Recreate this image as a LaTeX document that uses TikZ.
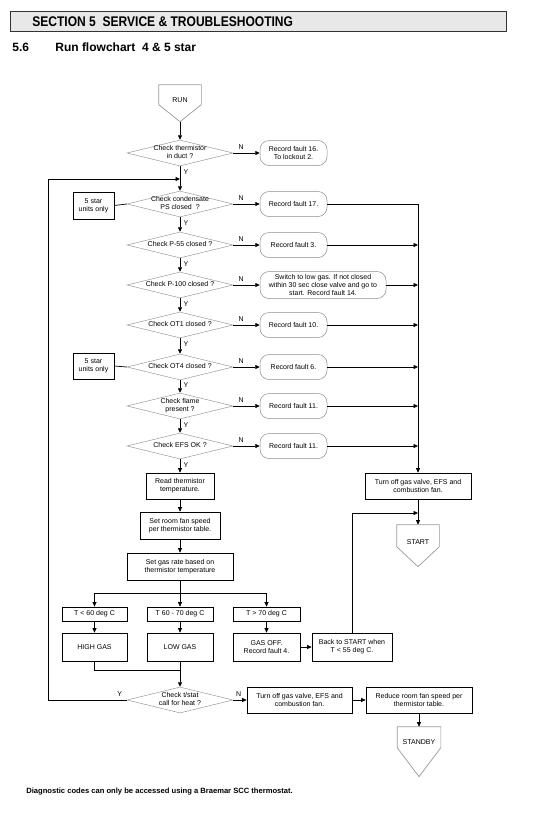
\documentclass[tikz,border=0pt]{standalone}
\usepackage{fontspec}
\setmainfont{Liberation Sans}
\usetikzlibrary{arrows, arrows.meta, shapes.geometric, calc}
\newcommand{\dtxt}[1]{\makebox[0pt]{\begin{tabular}{@{}c@{}}#1\end{tabular}}}
\newcommand{\pent}[3]{\draw[draw=gray!80] (#1.north west) -- (#1.north east) -- ($(#1.north east)+(0,#2)$) -- ($(#1.north)+(0,#3)$) coordinate (#1tip) -- ($(#1.north west)+(0,#2)$) -- cycle;}

\begin{document}
\begin{tikzpicture}[x=1pt, y=-1pt, line width=0.7pt, >={Triangle[length=4.5pt, width=4pt]},
		font=\fontsize{7}{8}\selectfont,
		dec/.style={diamond, draw=gray!80, line width=0.5pt, aspect=4, inner sep=0pt, minimum width=106, minimum height=26},
		rec/.style={rectangle, rounded corners=9pt, draw=gray!90, line width=0.5pt, align=center, inner sep=1pt, minimum width=67, minimum height=25},
		box/.style={rectangle, draw, align=center, inner sep=1pt},
		term/.style={rectangle, inner sep=0pt, minimum width=42}]
			
			\useasboundingbox (0,0) rectangle (543,814);
			
			\node[draw=black!80, fill=gray!18, anchor=north west, minimum width=496, minimum height=20, inner sep=0pt] (hdr) at (10,11) {};
			\node[anchor=west, inner sep=0pt, font=\fontsize{14}{16}\selectfont\bfseries] (hdrtxt) at (32,21.5) {\scalebox{0.86}[1]{SECTION 5\ \ SERVICE \& TROUBLESHOOTING}};
			\node[anchor=west, inner sep=0pt, font=\fontsize{12}{14}\selectfont\bfseries] (secnum) at (12,47) {5.6};
			\node[anchor=west, inner sep=0pt, font=\fontsize{12}{14}\selectfont\bfseries] (sectitle) at (55,47) {Run flowchart\ \ 4 \& 5 star};
			
			\node[term, minimum height=30] (run) at (180,100) {RUN};
			\pent{run}{20}{37}
			
			\node[dec] (d1) at (180,153) {\dtxt{Check thermistor\\in duct ?}};
			\node[dec] (d2) at (180,204) {\dtxt{Check condensate\\PS closed\ \ ?}};
			\node[dec] (d3) at (180,245) {\dtxt{Check P-55 closed ?}};
			\node[dec] (d4) at (180,285) {\dtxt{Check P-100 closed ?}};
			\node[dec] (d5) at (180,325) {\dtxt{Check OT1 closed ?}};
			\node[dec] (d6) at (180,367) {\dtxt{Check OT4 closed ?}};
			\node[dec] (d7) at (180,406) {\dtxt{Check flame\\present ?}};
			\node[dec] (d8) at (180,446) {\dtxt{Check EFS OK ?}};
			
			\node[rec] (r1) at (293.5,153) {Record fault 16.\\To lockout 2.};
			\node[rec] (r2) at (293.5,204) {Record fault 17.};
			\node[rec] (r3) at (293.5,245) {Record fault 3.};
			\node[rec, minimum width=126, minimum height=27] (r4) at (323,285) {Switch to low gas. If not closed\\within 30 sec close valve and go to\\start. Record fault 14.};
			\node[rec] (r5) at (293.5,325) {Record fault 10.};
			\node[rec] (r6) at (293.5,367) {Record fault 6.};
			\node[rec] (r7) at (293.5,406) {Record fault 11.};
			\node[rec] (r8) at (293.5,446) {Record fault 11.};
			
			\node[box, minimum width=41, minimum height=27] (s1) at (93.5,205.5) {5 star\\units only};
			\node[box, minimum width=41, minimum height=26] (s2) at (93.5,366) {5 star\\units only};
			
			\node[box, minimum width=106, minimum height=26] (tb1) at (418,486) {Turn off gas valve, EFS and\\combustion fan.};
			\node[term, minimum height=34] (start) at (418,542) {START};
			\pent{start}{22}{42}
			
			\node[box, minimum width=68, minimum height=26] (b1) at (180,486) {Read thermistor\\temperature.};
			\node[box, minimum width=80, minimum height=27] (b2) at (180,525.5) {Set room fan speed\\per thermistor table.};
			\node[box, minimum width=106, minimum height=27] (b3) at (180,566.5) {Set gas rate based on\\thermistor temperature};
			
			\node[box, minimum width=65, minimum height=14] (t1) at (94.5,614) {T < 60 deg C};
			\node[box, minimum width=66, minimum height=14] (t2) at (180,614) {T 60 - 70 deg C};
			\node[box, minimum width=67, minimum height=14] (t3) at (266.5,614) {T > 70 deg C};
			
			\node[box, minimum width=65, minimum height=28] (g1) at (94.5,647) {HIGH GAS};
			\node[box, minimum width=66, minimum height=28] (g2) at (180,647) {LOW GAS};
			\node[box, minimum width=67, minimum height=28] (g3) at (266.5,647) {GAS OFF.\\Record fault 4.};
			\node[box, minimum width=80, minimum height=28] (back) at (352,647) {Back to START when\\T < 55 deg C.};
			
			\node[dec] (d9) at (180,700) {\dtxt{Check t/stat\\call for heat ?}};
			\node[box, minimum width=105, minimum height=26] (tb2) at (299.5,700) {Turn off gas valve, EFS and\\combustion fan.};
			\node[box, minimum width=106, minimum height=26] (tb3) at (419,700) {Reduce room fan speed per\\thermistor table.};
			\node[term, minimum width=43, minimum height=30] (standby) at (419,742) {STANDBY};
			\pent{standby}{21}{50}
			
			\node[anchor=west, inner sep=0pt, font=\fontsize{7.6}{9}\selectfont\bfseries] (note) at (26,792) {Diagnostic codes can only be accessed using a Braemar SCC thermostat.};
			
			\coordinate (join1) at (180,179);
			\coordinate (lp) at (48,700);
			\coordinate (join2) at (418,513);
			\coordinate (br) at (180,593);
			\coordinate (mg) at (180,670);
			
			\draw[->] (runtip) -- (d1.north);
			\draw[->] (d1.south) -- node[right, pos=0.25] {Y} (d2.north);
			\draw[->] (d2.south) -- node[right, pos=0.4] {Y} (d3.north);
			\draw[->] (d3.south) -- node[right, pos=0.4] {Y} (d4.north);
			\draw[->] (d4.south) -- node[right, pos=0.4] {Y} (d5.north);
			\draw[->] (d5.south) -- node[right, pos=0.4] {Y} (d6.north);
			\draw[->] (d6.south) -- node[right, pos=0.4] {Y} (d7.north);
			\draw[->] (d7.south) -- node[right, pos=0.4] {Y} (d8.north);
			\draw[->] (d8.south) -- node[right, pos=0.4] {Y} (b1.north);
			\draw[->] (b1.south) -- (b2.north);
			\draw[->] (b2.south) -- (b3.north);
			
			\draw[->] (d1.east) -- node[above, pos=0.3] {N} (r1.west);
			\draw[->] (d2.east) -- node[above, pos=0.3] {N} (r2.west);
			\draw[->] (d3.east) -- node[above, pos=0.3] {N} (r3.west);
			\draw[->] (d4.east) -- node[above, pos=0.3] {N} (r4.west);
			\draw[->] (d5.east) -- node[above, pos=0.3] {N} (r5.west);
			\draw[->] (d6.east) -- node[above, pos=0.3] {N} (r6.west);
			\draw[->] (d7.east) -- node[above, pos=0.3] {N} (r7.west);
			\draw[->] (d8.east) -- node[above, pos=0.3] {N} (r8.west);
			
			\draw (s1.east) -- (d2.west);
			\draw (s2.east) -- (d6.west);
			
			\draw[->] (r2.east) -| (tb1.north);
			\draw[->] (r3.east) -- (r3.east -| tb1.north);
			\draw[->] (r4.east) -- (r4.east -| tb1.north);
			\draw[->] (r5.east) -- (r5.east -| tb1.north);
			\draw[->] (r6.east) -- (r6.east -| tb1.north);
			\draw[->] (r7.east) -- (r7.east -| tb1.north);
			\draw[->] (r8.east) -- (r8.east -| tb1.north);
			\draw[->] (tb1.south) -- (start.north);
			
			\draw (b3.south) -- (br);
			\draw[->] (br) -| (t1.north);
			\draw[->] (br) -- (t2.north);
			\draw[->] (br) -| (t3.north);
			\draw[->] (t1.south) -- (g1.north);
			\draw[->] (t2.south) -- (g2.north);
			\draw[->] (t3.south) -- (g3.north);
			\draw[->] (g3.east) -- (back.west);
			\draw[->] (back.north) |- (join2);
			
			\draw (g1.south) |- (mg);
			\draw[->] (g2.south) -- (d9.north);
			\draw[->] (d9.west) -- node[above, pos=0.09] {Y} (lp) |- (join1);
			\draw[->] (d9.east) -- node[above, pos=0.4] {N} (tb2.west);
			\draw[->] (tb2.east) -- (tb3.west);
			\draw[->] (tb3.south) -- (standby.north);
		\end{tikzpicture}
\end{document}
